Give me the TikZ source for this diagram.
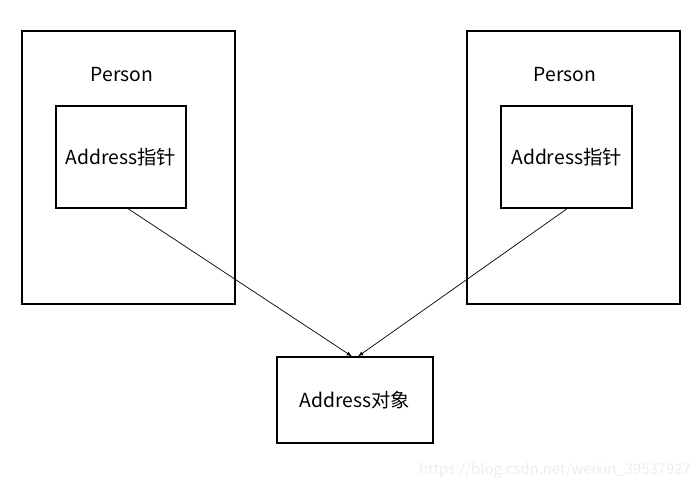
\documentclass[tikz,border=0pt]{standalone}
\usepackage{fontspec}
\setmainfont{Noto Sans CJK SC}
\usepackage{tikz}
\usetikzlibrary{arrows}
\usetikzlibrary{positioning}
\tikzset{>=latex}

\begin{document}
\begin{tikzpicture}[x=0.03cm, y=-0.03cm, box/.style={rectangle, draw=black, line width=1.1pt, inner sep=0pt}, lbl/.style={font=\fontsize{16.5}{19}\selectfont}, ptr/.style={->, line width=0.6pt}]
		\useasboundingbox (0,0) rectangle (700,490);
		\node[box, minimum width=6.39cm, minimum height=8.19cm] (pL) at (128.5,167.5) {};
		\node[box, minimum width=6.39cm, minimum height=8.19cm] (pR) at (573.5,167.5) {};
		\node[lbl] (nL) at (122,75) {Person};
		\node[lbl] (nR) at (565,75) {Person};
		\node[box, lbl, minimum width=3.9cm, minimum height=3.06cm] (aL) at (121,157) {Address指针};
		\node[box, lbl, minimum width=3.93cm, minimum height=3.06cm] (aR) at (566.5,157) {Address指针};
		\node[box, lbl, minimum width=4.68cm, minimum height=2.58cm] (obj) at (355,400) {Address对象};
		\node[font=\fontsize{12.7}{15}\selectfont, text=black!7] (wm) at (555,470) {https://blog.csdn.net/weixin\_39537927};

		\draw[ptr] ([xshift=0.21cm]aL.south) -- ([xshift=-0.09cm]obj.north);
		\draw[ptr] ([xshift=0.02cm]aR.south) -- ([xshift=0.09cm]obj.north);
\end{tikzpicture}
\end{document}
